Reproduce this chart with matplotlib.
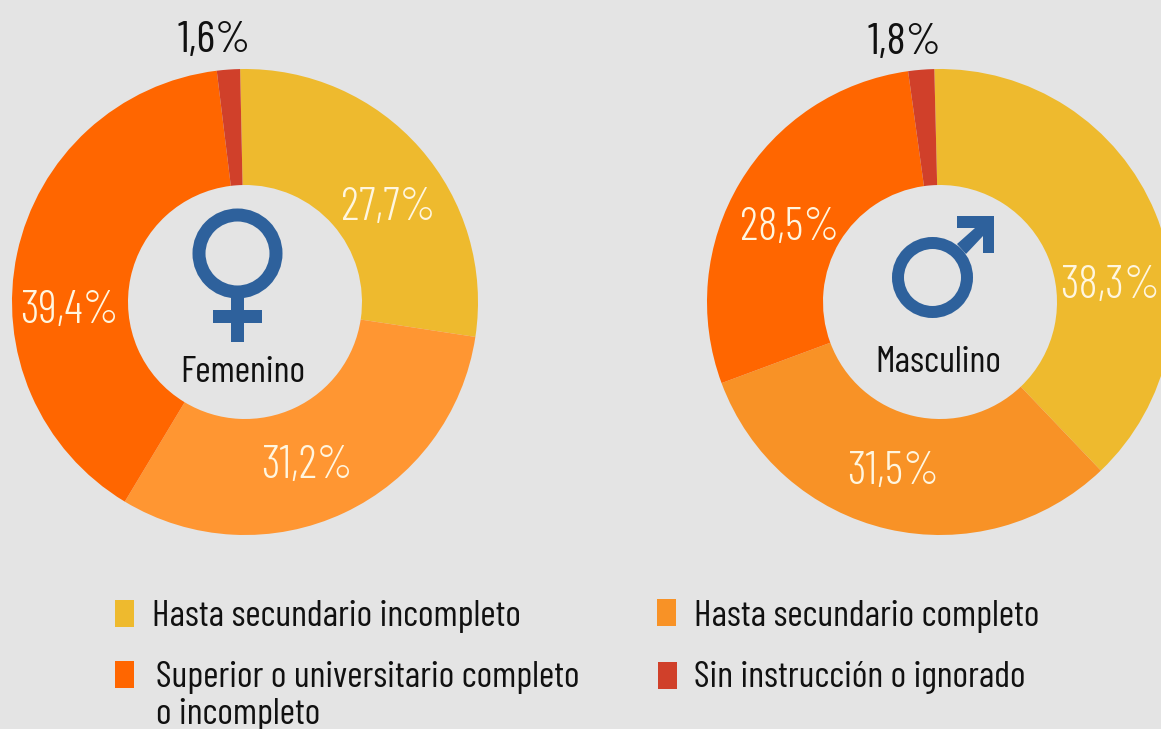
import matplotlib
matplotlib.use('Agg')
import matplotlib.pyplot as plt
from matplotlib.patches import Circle, Polygon, Rectangle

W, H = 1161, 729
BG = '#E4E4E4'
BLUE = '#2E619C'

categories = ['Hasta secundario incompleto', 'Hasta secundario completo',
              'Superior o universitario completo\no incompleto', 'Sin instrucción o ignorado']
femenino = [27.7, 31.2, 39.4, 1.6]
masculino = [38.3, 31.5, 28.5, 1.8]
colors_f = ['#EEBA2E', '#FF9632', '#FF6600', '#D0402A']
colors_m = ['#EEBA2E', '#F89226', '#FF6600', '#D0402A']

plt.rcParams['font.family'] = ['Barlow Condensed', 'Roboto', 'DejaVu Sans']


def donut(fig, cx, cy, r, values, colors, start):
    # pie axes placed in pixels, the second one runs off the right edge
    ax = fig.add_axes([(cx - r) / W, 1 - (cy + r) / H, 2 * r / W, 2 * r / H])
    ax.pie(values, colors=colors, radius=1, startangle=start, counterclock=False,
           wedgeprops={'width': 116 / r, 'linewidth': 0})
    ax.set_xlim(-1, 1)
    ax.set_ylim(-1, 1)
    ax.axis('off')


fig = plt.figure(figsize=(W / 100, H / 100), dpi=100, facecolor=BG)
donut(fig, 245, 302, 233, femenino, colors_f, 91.2)
donut(fig, 940, 302, 233, masculino, colors_m, 91.4)

# overlay in image pixels for the symbols, labels and legend
ov = fig.add_axes([0, 0, 1, 1])
ov.set_xlim(0, W)
ov.set_ylim(H, 0)
ov.axis('off')
ov.patch.set_alpha(0)

# female symbol
ov.add_patch(Circle((237.5, 253.5), 38.5, fill=False, ec=BLUE, lw=13 * 0.72))
ov.add_patch(Rectangle((231, 297), 13, 45, fc=BLUE, ec='none'))
ov.add_patch(Rectangle((213, 310), 49, 13, fc=BLUE, ec='none'))

# male symbol
ov.add_patch(Circle((932.5, 277.5), 34.5, fill=False, ec=BLUE, lw=12 * 0.72))
ov.add_patch(Polygon([(957, 216), (994, 216), (994, 253), (983, 253), (983, 236),
                      (966, 254), (957, 244), (975, 228), (957, 228)], fc=BLUE, ec='none'))

ov.text(242.5, 372, 'Femenino', fontsize=27, ha='center', va='center', color='#111111')
ov.text(938, 362, 'Masculino', fontsize=27, ha='center', va='center', color='#111111')


def pct(v):
    return f'{v:.1f}'.replace('.', ',') + '%'


for v, x, y in zip(femenino[:3], [388.5, 306.5, 69.5], [208, 466, 311]):
    ov.text(x, y, pct(v), fontsize=33, fontweight=300, color='#FFF6E0', ha='center', va='center')
for v, x, y in zip(masculino[:3], [1110.5, 893, 789.5], [286, 472, 228]):
    ov.text(x, y, pct(v), fontsize=33, fontweight=300, color='#FFF6E0', ha='center', va='center')
ov.text(214, 41, pct(femenino[3]), fontsize=32.5, fontweight=400, color='#111111', ha='center', va='center')
ov.text(905, 43, pct(masculino[3]), fontsize=32.5, fontweight=400, color='#111111', ha='center', va='center')

# legend
boxes = [(115, 600), (657, 599), (115, 661), (658, 662)]
text_x = [152, 694, 156, 694]
text_y = [614, 614, 675, 675]
for cat, col, (bx, by), tx, ty in zip(categories, colors_m, boxes, text_x, text_y):
    ov.add_patch(Rectangle((bx, by), 19, 27, fc=col, ec='none'))
    ov.text(tx, ty - 14, cat, fontsize=26.8, color='#111111', ha='left', va='top', linespacing=1.14)

fig.savefig('out.png', dpi=100, facecolor=BG)
